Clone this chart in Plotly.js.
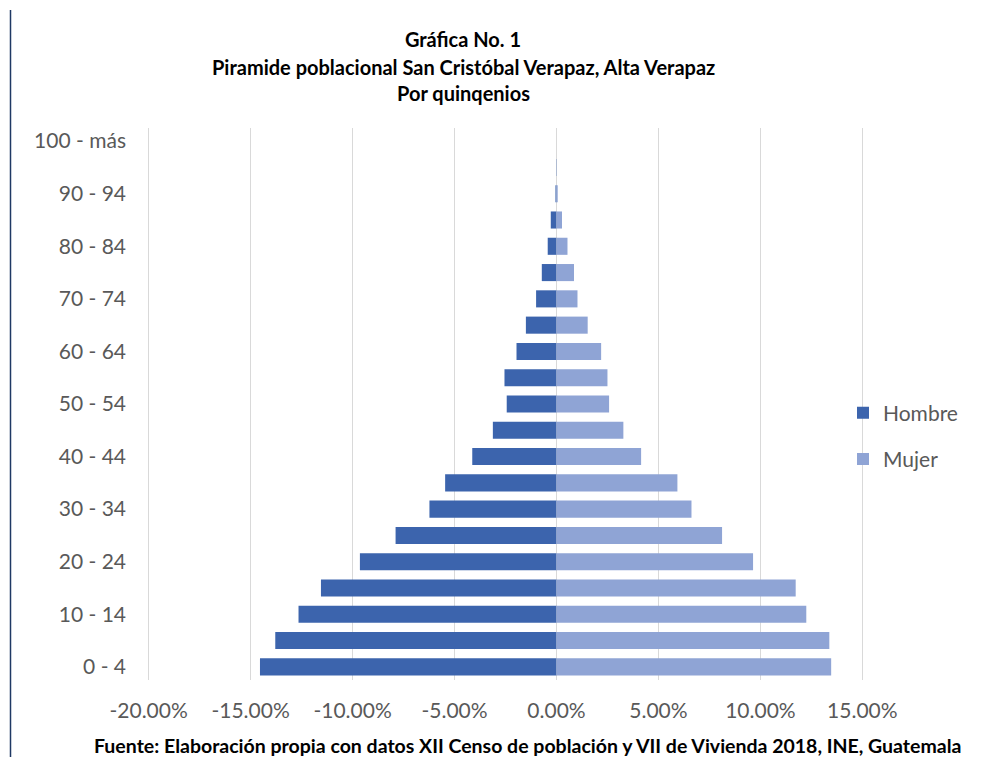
<!DOCTYPE html>
<html>
<head>
<meta charset="utf-8">
<script src="https://cdn.plot.ly/plotly-3.0.1.min.js"></script>
<style>html,body{margin:0;padding:0;background:#fff;}#chart{width:984px;height:757px;}</style>
</head>
<body>
<div id="chart"></div>
<script>
const ageGroups = ["0 - 4","5 - 9","10 - 14","15 - 19","20 - 24","25 - 29","30 - 34","35 - 39","40 - 44","45 - 49","50 - 54","55 - 59","60 - 64","65 - 69","70 - 74","75 - 79","80 - 84","85 - 89","90 - 94","95 - 99","100 - más"];
const hombre = [-14.54,-13.79,-12.65,-11.55,-9.64,-7.89,-6.23,-5.46,-4.13,-3.12,-2.44,-2.55,-1.96,-1.50,-1.00,-0.72,-0.43,-0.28,-0.05,-0.01,0];
const mujer = [13.47,13.38,12.25,11.73,9.64,8.12,6.62,5.93,4.15,3.28,2.58,2.50,2.19,1.53,1.03,0.86,0.54,0.27,0.06,0.01,0];
const yTickVals = ["0 - 4","10 - 14","20 - 24","30 - 34","40 - 44","50 - 54","60 - 64","70 - 74","80 - 84","90 - 94","100 - más"];
const xTickVals = [-20,-15,-10,-5,0,5,10,15];
const xTickText = ["-20.00%","-15.00%","-10.00%","-5.00%","0.00%","5.00%","10.00%","15.00%"];

const font = "Lato, 'Open Sans', sans-serif";
const tickSize = 21;
const traces = [
  {type:'bar', orientation:'h', name:'Hombre', y:ageGroups, x:hombre, marker:{color:'#3C64AD'}, legendgroup:'h', hoverinfo:'x+y'},
  {type:'bar', orientation:'h', name:'Mujer', y:ageGroups, x:mujer, marker:{color:'#8FA4D5'}, legendgroup:'m', hoverinfo:'x+y'}
];
const L = 147, R = 984 - 864, W = 984 - L - R;
const px = v => (v - L) / W;
const layout = {
  width:984, height:757,
  margin:{l:L, r:R, t:128, b:77},
  paper_bgcolor:'#fff', plot_bgcolor:'#fff',
  barmode:'relative', bargap:0.35,
  font:{family:font, color:'#595959', size:tickSize},
  title:{text:'<b>Gráfica No. 1</b>', font:{family:font, size:20, color:'#000'}, x:463/984, xanchor:'center', xref:'container', y:1-40/757, yanchor:'middle', yref:'container'},
  xaxis:{range:[-20.08,15.08], tickvals:xTickVals, ticktext:xTickText, showgrid:true, gridcolor:'#d9d9d9', gridwidth:1.5, zeroline:false, showline:false, ticks:'', tickfont:{size:tickSize, color:'#595959'}, ticklabelstandoff:16, fixedrange:true},
  yaxis:{type:'category', categoryorder:'array', categoryarray:ageGroups, range:[-0.5,20.5], tickvals:yTickVals, showgrid:false, zeroline:false, showline:false, ticks:'', tickfont:{size:tickSize, color:'#595959'}, ticklabelstandoff:20, fixedrange:true},
  legend:{x:px(843), xanchor:'left', y:(680-436)/552, yanchor:'middle', font:{size:tickSize, color:'#595959'}, tracegroupgap:16, traceorder:'grouped', bgcolor:'rgba(0,0,0,0)'},
  annotations:[
    {text:'<b>Piramide poblacional San Cristóbal Verapaz, Alta Verapaz</b>', xref:'paper', yref:'paper', x:px(463), y:(680-67)/552, xanchor:'center', yanchor:'middle', showarrow:false, font:{family:font, size:20, color:'#000'}},
    {text:'<b>Por quinqenios</b>', xref:'paper', yref:'paper', x:px(463), y:(680-93)/552, xanchor:'center', yanchor:'middle', showarrow:false, font:{family:font, size:20, color:'#000'}},
    {text:'<b>Fuente: Elaboración propia con datos XII Censo de población y VII de Vivienda 2018, INE, Guatemala</b>', xref:'paper', yref:'paper', x:px(527), y:(680-745)/552, xanchor:'center', yanchor:'middle', showarrow:false, font:{family:font, size:19.5, color:'#000'}}
  ],
  shapes:[
    {type:'line', xref:'paper', yref:'paper', x0:px(10.5), x1:px(10.5), y0:(680-10)/552, y1:(680-760)/552, line:{color:'#1F3864', width:1.5}}
  ]
};
Plotly.newPlot('chart', traces, layout, {displayModeBar:false, staticPlot:true});
</script>
</body>
</html>
